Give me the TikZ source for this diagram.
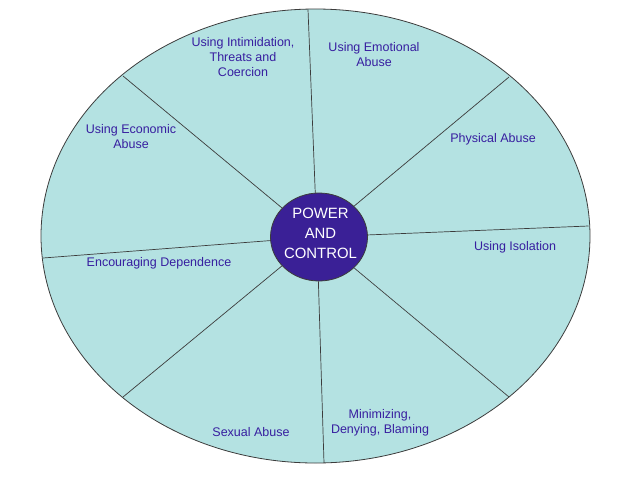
\documentclass[tikz,border=0pt]{standalone}
\usepackage{fontspec}
\setmainfont{Liberation Sans}
\usetikzlibrary{shapes.geometric}
\definecolor{wheelfill}{RGB}{180,226,226}
\definecolor{hubfill}{RGB}{58,32,150}
\definecolor{labelcol}{RGB}{55,30,160}
\definecolor{linecol}{RGB}{60,60,60}
\tikzset{
  lbl/.style={text=labelcol, align=center, font=\fontsize{12.5}{14.6}\selectfont, inner sep=0pt},
  spoke/.style={draw=linecol, line width=0.7pt},
}
\begin{document}
\begin{tikzpicture}[x=1pt,y=-1pt]
\useasboundingbox (0,0) rectangle (640,477);
% wheel
\node[ellipse, draw=linecol, line width=0.8pt, fill=wheelfill, minimum width=549pt, minimum height=454pt, inner sep=0pt] (wheel) at (315.5,236) {};
% spoke coordinates
\coordinate (c) at (317,237);
\coordinate (o1) at (308,9.5);
\coordinate (o2) at (509,77);
\coordinate (o3) at (588.5,226);
\coordinate (o4) at (509,397);
\coordinate (o5) at (324,463);
\coordinate (o6) at (123,397);
\coordinate (o7) at (43,258);
\coordinate (o8) at (123,76);
\foreach \i in {1,...,8} {\draw[spoke] (c) -- (o\i);}
% hub
\node[ellipse, draw=linecol, line width=0.8pt, fill=hubfill, minimum width=97pt, minimum height=88pt, inner sep=0pt] (hub) at (319,237) {};
\node[text=white, align=center, font=\fontsize{14.9}{20}\selectfont, inner sep=0pt] (hubtxt) at (320.5,233) {POWER\\AND\\CONTROL};
% labels
\node[lbl] (l1) at (243,57) {Using Intimidation,\\Threats and\\Coercion};
\node[lbl] (l2) at (374,54.5) {Using Emotional\\Abuse};
\node[lbl] (l3) at (493,139.5) {Physical Abuse};
\node[lbl] (l4) at (515,247.5) {Using Isolation};
\node[lbl] (l5) at (380,423) {Minimizing,\\Denying, Blaming};
\node[lbl] (l6) at (251,432) {Sexual Abuse};
\node[lbl] (l7) at (159,263.5) {Encouraging Dependence};
\node[lbl] (l8) at (131,136.5) {Using Economic\\Abuse};
\end{tikzpicture}
\end{document}
